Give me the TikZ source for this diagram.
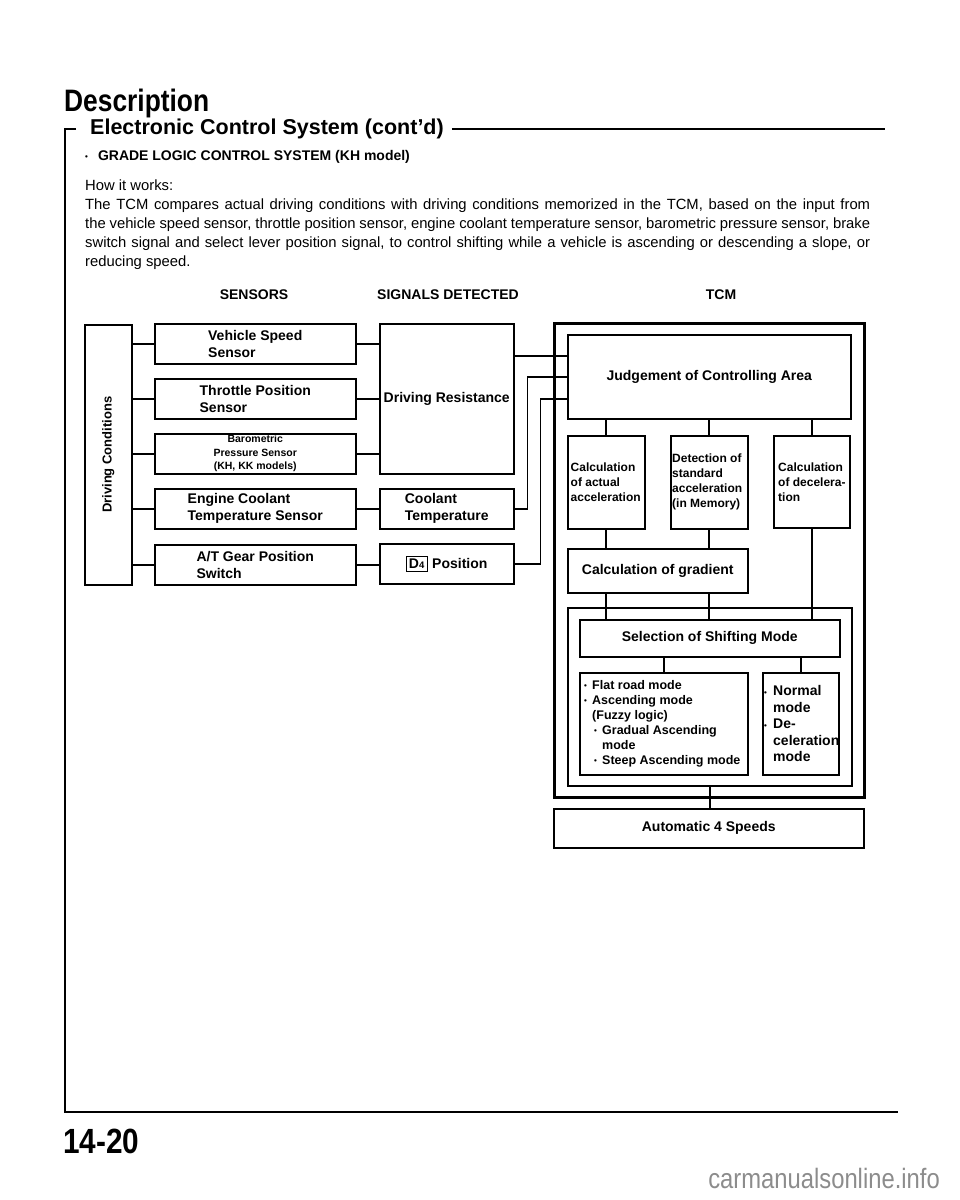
\documentclass[tikz,border=0pt]{standalone}
\usepackage{fontspec}
\setmainfont{Liberation Sans}
\newfontfamily\condfont[FakeStretch=0.85]{Liberation Sans}
\newcommand\fsz[2]{\fontsize{#1}{#2}\selectfont}
\newcommand\bul{\raisebox{0.04em}{\fsz{8}{8}•}}
\newcommand\pline[1]{\makebox[785pt][s]{#1}}
\begin{document}
\begin{tikzpicture}[x=1pt,y=-1pt,
  box/.style={draw, line width=1.5pt, inner sep=0pt, anchor=north west, align=left,
    font=\bfseries\fsz{14}{17}},
  tcmbox/.style={draw, line width=2.8pt, inner sep=0pt, anchor=north west},
  lbl/.style={inner sep=0pt, align=left, anchor=west},
  wire/.style={line width=1.6pt},
  frame/.style={line width=1.6pt},
  hdrtxt/.style={font=\bfseries\fsz{14}{16}, inner sep=0pt}]
\useasboundingbox (0,0) rectangle (960,1200);

% ---------- page heading ----------
\node[anchor=base west, inner sep=0pt, font=\condfont\bfseries\fsz{31}{31}] (title) at (64,111) {Description};
\node[anchor=west, inner sep=0pt, font=\bfseries\fsz{21.5}{24}] (hdr) at (90,129) {Electronic Control System (cont’d)};
\coordinate (ftl) at (65,129);
\coordinate (fbl) at (65,1112);
\coordinate (fbr) at (898,1112);
\coordinate (ftr) at (885,129);
\draw[frame] ([xshift=-14pt]hdr.west) -- (ftl) -- (fbl) -- (fbr);
\draw[frame] ([xshift=8pt]hdr.east) -- (ftr);

\node[anchor=west, inner sep=0pt, font=\bfseries\fsz{14}{16}] (grade) at (85,157) {\raisebox{0.08em}{\fsz{8}{8}•}\hspace{10pt}GRADE LOGIC CONTROL SYSTEM (KH model)};
\node[anchor=north west, inner sep=0pt, align=left, font=\fsz{14.8}{19}] (para) at (85,179.5) {How it works:\\
\pline{The TCM compares actual driving conditions with driving conditions memorized in the TCM, based on the input from}\\
\pline{the vehicle speed sensor, throttle position sensor, engine coolant temperature sensor, barometric pressure sensor, brake}\\
\pline{switch signal and select lever position signal, to control shifting while a vehicle is ascending or descending a slope, or}\\
reducing speed.};

\node[hdrtxt] (hsens) at (254,295) {SENSORS};
\node[hdrtxt] (hsig) at (448,295) {SIGNALS DETECTED};
\node[hdrtxt] (htcm) at (721,295) {TCM};

% ---------- driving conditions & sensors ----------
\node[box, minimum width=47, minimum height=260] (dc) at (84,324) {};
\node[rotate=90, inner sep=0pt, font=\bfseries\fsz{13}{15}] (dclabel) at (dc.center) {Driving Conditions};

\node[box, minimum width=201, minimum height=40] (vss) at (154,323) {Vehicle Speed\\Sensor};
\node[box, minimum width=201, minimum height=40] (tps) at (154,378) {Throttle Position\\Sensor};
\node[box, minimum width=201, minimum height=40, align=center, font=\bfseries\fsz{10.5}{13.5}] (baro) at (154,433) {Barometric\\Pressure Sensor\\(KH, KK models)};
\node[box, minimum width=201, minimum height=40] (ect) at (154,488) {Engine Coolant\\Temperature Sensor};
\node[box, minimum width=201, minimum height=40] (atg) at (154,544) {A/T Gear Position\\Switch};

\foreach \s in {vss,tps,baro,ect,atg}
  \draw[wire] (dc.east |- \s.west) -- (\s.west);

% ---------- signals detected ----------
\node[box, minimum width=134, minimum height=150] (dr) at (379,323) {Driving Resistance};
\node[box, minimum width=134, minimum height=40] (ct) at (379,488) {Coolant\\Temperature};
\node[box, minimum width=134, minimum height=40] (d4) at (379,543) {{\setlength\fboxsep{2pt}\setlength\fboxrule{0.9pt}\fbox{\fsz{14}{14}D\fsz{9.5}{9.5}4\hspace{1pt}}}\hspace{4pt}Position};

\foreach \s in {vss,tps,baro}
  \draw[wire] (\s.east) -- (\s.east -| dr.west);
\draw[wire] (ect.east) -- (ct.west);
\draw[wire] (atg.east) -- (atg.east -| d4.west);

% ---------- TCM ----------
\node[tcmbox, minimum width=310, minimum height=474] (tcm) at (553,322) {};
\node[box, minimum width=283, minimum height=84] (judg) at (567,334) {Judgement of Controlling Area};

\node[box, minimum width=77, minimum height=93] (actual) at (567,435) {};
\node[lbl, font=\bfseries\fsz{12}{15}] (actualt) at ([xshift=3.5pt]actual.west) {Calculation\\of actual\\acceleration};
\node[box, minimum width=77, minimum height=93] (det) at (670,435) {};
\node[lbl, font=\bfseries\fsz{12}{15}] (dett) at ([xshift=2pt]det.west) {Detection of\\standard\\acceleration\\(in Memory)};
\node[box, minimum width=76, minimum height=92] (decel) at (773,435) {};
\node[lbl, font=\bfseries\fsz{12}{15}] (decelt) at ([xshift=5pt]decel.west) {Calculation\\of decelera-\\tion};

\node[box, minimum width=180, minimum height=44] (grad) at (567,548) {Calculation of gradient};

\node[box, minimum width=284, minimum height=178] (inner) at (567,607) {};
\node[box, minimum width=260, minimum height=37] (sel) at (579,619) {Selection of Shifting Mode};

\node[box, minimum width=168, minimum height=102] (mleft) at (579,672) {};
\node[lbl, font=\bfseries\fsz{12.5}{15}] (mleftt) at ([xshift=5pt]mleft.west) {%
\makebox[8pt][l]{\bul}Flat road mode\\
\makebox[8pt][l]{\bul}Ascending mode\\
\hspace*{8pt}(Fuzzy logic)\\
\hspace*{10pt}\makebox[8pt][l]{\bul}Gradual Ascending\\
\hspace*{18pt}mode\\
\hspace*{10pt}\makebox[8pt][l]{\bul}Steep Ascending mode};
\node[box, minimum width=76, minimum height=102] (mright) at (762,672) {};
\node[lbl, font=\bfseries\fsz{14}{16.5}] (mrightt) at ([xshift=2pt]mright.west) {%
\makebox[9pt][l]{\bul}Normal\\
\hspace*{9pt}mode\\
\makebox[9pt][l]{\bul}De-\\
\hspace*{9pt}celeration\\
\hspace*{9pt}mode};

\node[box, minimum width=310, minimum height=39] (autofour) at (553,808) {Automatic 4 Speeds};

% ---------- connectors into TCM ----------
\coordinate (drout) at ([yshift=-33pt]dr.north east);
\draw[wire] (drout) -- (drout -| judg.west);
\draw[wire] (ct.east) -- ++(13,0) |- (judg.west);
\coordinate (jin3) at ([yshift=-22pt]judg.west);
\draw[wire] (d4.east) -- ++(26,0) |- (jin3);

% ---------- connectors inside TCM ----------
\draw[wire] (judg.south -| actual.north) -- (actual.north);
\draw[wire] (judg.south -| det.north) -- (det.north);
\draw[wire] (judg.south -| decel.north) -- (decel.north);
\draw[wire] (actual.south) -- (actual.south |- grad.north);
\draw[wire] (det.south) -- (det.south |- grad.north);
\draw[wire] (grad.south -| actual.south) -- (sel.north -| actual.south);
\draw[wire] (grad.south -| det.south) -- (sel.north -| det.south);
\draw[wire] (decel.south) -- (decel.south |- sel.north);
\draw[wire] (sel.south -| mleft.north) -- (mleft.north);
\draw[wire] (sel.south -| mright.north) -- (mright.north);
\draw[wire] (inner.south) -- (inner.south |- autofour.north);

% ---------- footer ----------
\node[anchor=base west, inner sep=0pt, font=\condfont\bfseries\fsz{35}{35}] (page) at (63,1153) {14-20};
\node[anchor=base east, inner sep=0pt, text=black!45, font=\condfont\fsz{28}{28}] (wm) at (940,1188) {carmanualsonline.info};
\end{tikzpicture}
\end{document}
